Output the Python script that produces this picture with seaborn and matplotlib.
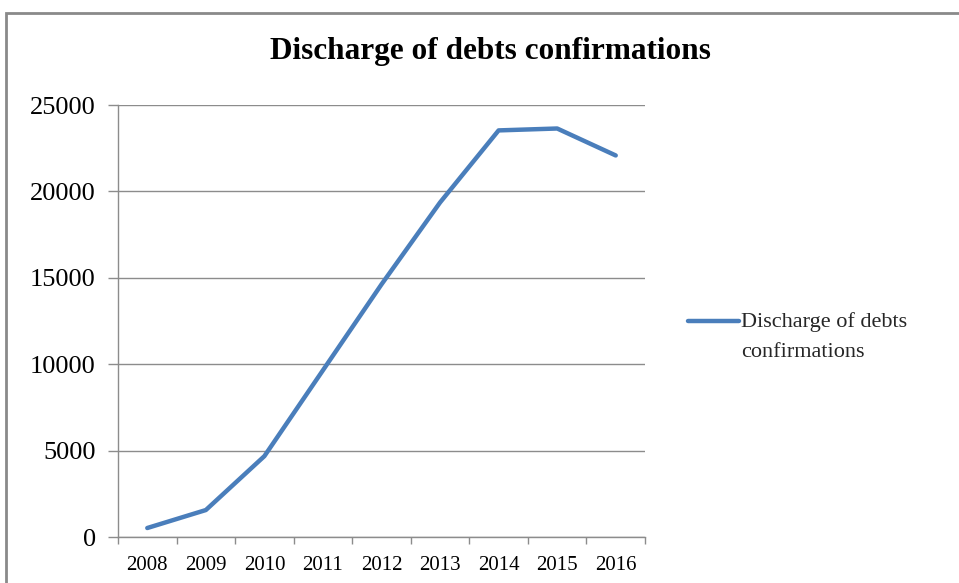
import matplotlib
matplotlib.use("Agg")
import matplotlib.pyplot as plt
from matplotlib.patches import Rectangle
from matplotlib.lines import Line2D
from matplotlib.legend_handler import HandlerLine2D
from matplotlib.ticker import FixedLocator, NullFormatter
import numpy as np
import seaborn as sns
import pandas as pd

years = ["2008", "2009", "2010", "2011", "2012", "2013", "2014", "2015", "2016"]
confirmations = [520, 1560, 4680, 9650, 14620, 19360, 23530, 23640, 22080]
series_name = "Discharge of debts confirmations"
y_ticks = [0, 5000, 10000, 15000, 20000, 25000]

sns.set_theme(style="white")
plt.rcParams["font.family"] = ["Liberation Serif", "DejaVu Serif"]

df = pd.DataFrame({"year": years, "value": confirmations})

fig = plt.figure(figsize=(9.59, 5.83), dpi=100)
fig.patch.set_facecolor("white")
ax = fig.add_axes([118 / 959, 1 - 537 / 583, (645 - 118) / 959, (537 - 105) / 583])

sns.lineplot(data=df, x="year", y="value", ax=ax, color="#4A7EBB",
             linewidth=3.2, sort=False, label="Discharge of debts\nconfirmations")

ax.set_xlim(-0.5, len(years) - 0.5)
ax.set_ylim(0, 25000)
ax.set_yticks(y_ticks)
ax.set_yticklabels([str(v) for v in y_ticks])
ax.set_xlabel("")
ax.set_ylabel("")

grid_color = "#8C8C8C"
ax.yaxis.grid(True, color=grid_color, linewidth=1.0)
ax.xaxis.grid(False)
ax.set_axisbelow(True)

for side in ("top", "right"):
    ax.spines[side].set_visible(False)
for side in ("left", "bottom"):
    ax.spines[side].set_color(grid_color)
    ax.spines[side].set_linewidth(1.0)

# category-boundary tick marks on the x axis, labels centred between them
ax.xaxis.set_minor_locator(FixedLocator([i - 0.5 for i in range(len(years) + 1)]))
ax.xaxis.set_minor_formatter(NullFormatter())
ax.tick_params(axis="x", which="minor", bottom=True, length=5, width=1, color=grid_color, direction="out")
ax.tick_params(axis="x", which="major", bottom=False, labelsize=15, pad=8, colors="black")
ax.tick_params(axis="y", which="major", left=True, length=7, width=1, color=grid_color,
               direction="out", labelsize=19, pad=9, labelcolor="black")

fig.text(490 / 959, 1 - 52 / 583, series_name, ha="center", va="center",
         fontsize=22.5, fontweight="bold", color="black")


class FirstLineHandler(HandlerLine2D):
    """Legend line aligned with the first line of a two-line label."""
    shift = 11.5

    def create_artists(self, legend, orig_handle, xdescent, ydescent, width,
                       height, fontsize, trans):
        artists = super().create_artists(legend, orig_handle, xdescent, ydescent,
                                         width, height, fontsize, trans)
        for a in artists:
            if isinstance(a, Line2D):
                a.set_ydata(np.asarray(a.get_ydata(), dtype=float) + self.shift)
        return artists


handles, labels = ax.get_legend_handles_labels()
leg = ax.legend(handles, labels, loc="center left", bbox_to_anchor=(1.065, 0.462),
                frameon=False, fontsize=16, handlelength=2.3, handletextpad=0.1,
                borderaxespad=0, handler_map={Line2D: FirstLineHandler()})
for t in leg.get_texts():
    t.set_linespacing(1.8)

# outer chart frame, partly cut off at the right and bottom
fig.patches.append(Rectangle((6 / 959, -0.05), 1.1, 1 - 13 / 583 + 0.05,
                             transform=fig.transFigure, fill=False,
                             edgecolor="#8A8A8A", linewidth=2.0, clip_on=False))

fig.savefig("out.png", dpi=100, facecolor="white")
